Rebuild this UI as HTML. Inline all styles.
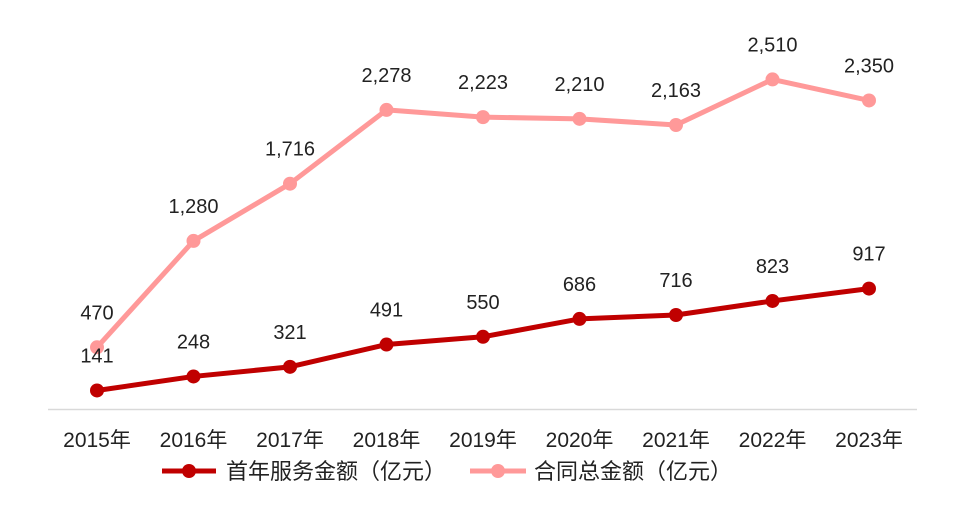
<!DOCTYPE html>
<html><head><meta charset="utf-8"><style>
body{margin:0;background:#fff;}
svg text{font-family:"Liberation Sans","Noto Sans CJK SC",sans-serif;fill:#222;}
</style></head><body>
<svg id="chart" width="963" height="500" xmlns="http://www.w3.org/2000/svg">
<line x1="48" y1="409.5" x2="917" y2="409.5" stroke="#d9d9d9" stroke-width="1.5"/>
<g id="xlabels"></g>
<g id="series"></g>
<g>
 <g>
  <line x1="162" y1="471" x2="216" y2="471" stroke="#c00000" stroke-width="5"/>
  <circle cx="189" cy="471" r="7" fill="#c00000"/>
  <text x="226" y="479" font-size="22">首年服务金额（亿元）</text>
 </g>
 <g>
  <line x1="470" y1="471" x2="526" y2="471" stroke="#ff9999" stroke-width="5"/>
  <circle cx="498" cy="471" r="7" fill="#ff9999"/>
  <text x="534" y="479" font-size="22">合同总金额（亿元）</text>
 </g>
</g>
</svg>
<script>
const categories=["2015年","2016年","2017年","2018年","2019年","2020年","2021年","2022年","2023年"];
const firstYear=[141,248,321,491,550,686,716,823,917];
const totalContract=[470,1280,1716,2278,2223,2210,2163,2510,2350];
const NS="http://www.w3.org/2000/svg";
function xPos(i){return 97+i*96.5;}
function yPos(v){return 409-v*0.1313;}
function fmt(v){return v.toLocaleString('en-US');}
const xl=document.getElementById('xlabels');
categories.forEach((c,i)=>{
 const t=document.createElementNS(NS,'text');
 
 
 t.setAttribute('x',xPos(i));t.setAttribute('y',447);t.setAttribute('font-size','21');t.setAttribute('text-anchor','middle');
 t.textContent=c;xl.appendChild(t);
});
const sg=document.getElementById('series');
function draw(vals,color,name){
 const g=document.createElementNS(NS,'g');
 
 
 const p=document.createElementNS(NS,'polyline');
 
 
 p.setAttribute('points',vals.map((v,i)=>xPos(i)+','+yPos(v)).join(' '));
 p.setAttribute('fill','none');p.setAttribute('stroke',color);p.setAttribute('stroke-width','5');p.setAttribute('stroke-linejoin','round');
 g.appendChild(p);
 vals.forEach((v,i)=>{
  const c=document.createElementNS(NS,'circle');
  
  
  c.setAttribute('cx',xPos(i));c.setAttribute('cy',yPos(v));c.setAttribute('r','7');c.setAttribute('fill',color);
  g.appendChild(c);
  const t=document.createElementNS(NS,'text');
  
  
  t.setAttribute('x',xPos(i));t.setAttribute('y',yPos(v)-28);t.setAttribute('font-size','20');t.setAttribute('text-anchor','middle');
  t.textContent=fmt(v);g.appendChild(t);
 });
 sg.appendChild(g);
}
draw(totalContract,'#ff9999','total-contract-series');
draw(firstYear,'#c00000','first-year-series');
</script>
</body></html>
